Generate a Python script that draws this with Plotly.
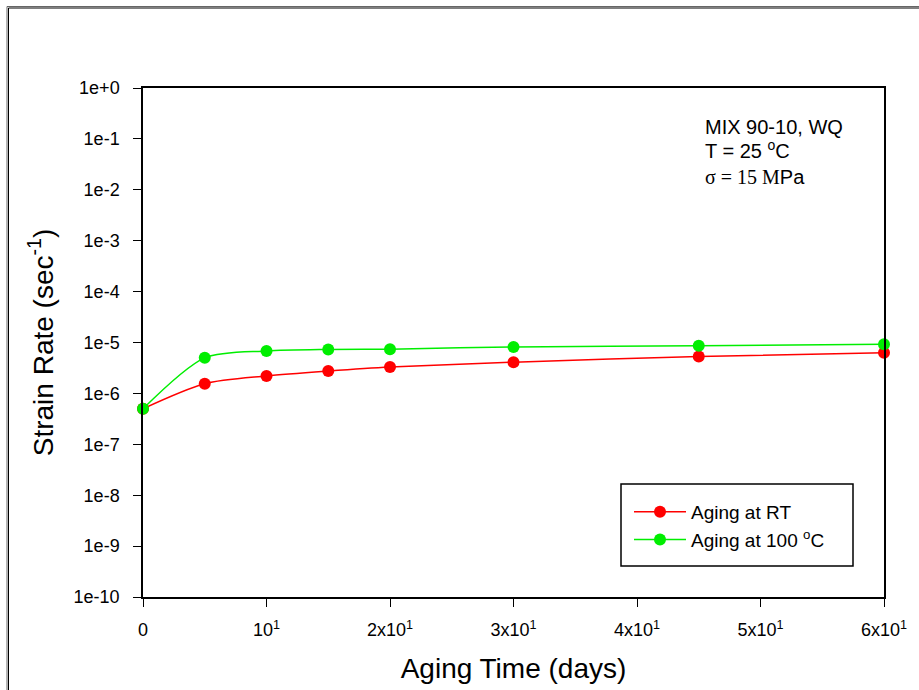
import plotly.graph_objects as go

# Aging time (days) and measured strain rates (1/s)
aging_days = [0, 5, 10, 15, 20, 30, 45, 60]
rate_rt = [5.0e-7, 1.55e-6, 2.2e-6, 2.75e-6, 3.3e-6, 4.1e-6, 5.3e-6, 6.3e-6]
rate_100c = [5.0e-7, 5.0e-6, 6.8e-6, 7.3e-6, 7.4e-6, 8.2e-6, 8.6e-6, 9.2e-6]

x_tick_vals = [0, 10, 20, 30, 40, 50, 60]
x_tick_text = ["0", "10<sup>1</sup>", "2x10<sup>1</sup>", "3x10<sup>1</sup>",
               "4x10<sup>1</sup>", "5x10<sup>1</sup>", "6x10<sup>1</sup>"]
y_tick_vals = [10.0 ** k for k in range(0, -11, -1)]
y_tick_text = ["1e+0"] + [f"1e{k}" for k in range(-1, -11, -1)]

FONT = "Liberation Sans, Arial, sans-serif"

fig = go.Figure()
fig.add_trace(go.Scatter(
    x=aging_days, y=rate_rt, mode="lines+markers", name="Aging at RT",
    line=dict(color="#ff0000", width=1.5, shape="spline", smoothing=0.8),
    marker=dict(color="#ff0000", size=12), cliponaxis=False,
))
fig.add_trace(go.Scatter(
    x=aging_days, y=rate_100c, mode="lines+markers",
    name="Aging at 100 <sup>o</sup>C",
    line=dict(color="#00ee00", width=1.5, shape="spline", smoothing=0.8),
    marker=dict(color="#00ee00", size=12), cliponaxis=False,
))

L, R, T, B = 143, 35, 88, 93
W, H = 919, 690
pw, ph = W - L - R, H - T - B

def px_x(p):
    return (p - L) / pw

def px_y(p):
    return (H - B - p) / ph

fig.update_layout(
    width=W, height=H,
    margin=dict(l=L, r=R, t=T, b=B),
    paper_bgcolor="white", plot_bgcolor="white",
    font=dict(family=FONT, color="black"),
    showlegend=True,
    legend=dict(
        x=px_x(629), y=px_y(493), xanchor="left", yanchor="top",
        borderwidth=0, bgcolor="rgba(0,0,0,0)",
        font=dict(size=19, family=FONT),
        itemwidth=52, tracegroupgap=0,
    ),
    xaxis=dict(
        range=[0, 60], tickvals=x_tick_vals, ticktext=x_tick_text,
        ticks="outside", ticklen=8, tickwidth=1, tickcolor="black",
        ticklabelstandoff=8,
        showline=True, linecolor="black", linewidth=1.5, mirror=True,
        showgrid=False, zeroline=False,
        tickfont=dict(size=18, family=FONT),
        title=dict(text="Aging Time (days)", font=dict(size=28, family=FONT), standoff=19),
    ),
    yaxis=dict(
        type="log", range=[-10, 0], tickvals=y_tick_vals, ticktext=y_tick_text,
        ticks="outside", ticklen=8, tickwidth=1, tickcolor="black",
        ticklabelstandoff=10,
        showline=True, linecolor="black", linewidth=1.5, mirror=True,
        showgrid=False, zeroline=False,
        tickfont=dict(size=18, family=FONT),
        title=dict(text="Strain Rate (sec<sup>-1</sup>)", font=dict(size=28, family=FONT), standoff=12),
    ),
)

# Legend frame
fig.add_shape(
    type="rect", xref="paper", yref="paper", layer="above",
    x0=px_x(621), x1=px_x(853), y0=px_y(566), y1=px_y(484),
    line=dict(color="black", width=1.5), fillcolor="rgba(0,0,0,0)",
)

# Condition notes in the upper right of the plot
notes = [
    ("MIX 90-10, WQ", 127),
    ("T = 25 <sup>o</sup>C", 150),
    ("<span style='font-family:Liberation Serif, Times New Roman, serif'>σ = 15 M</span>Pa", 177),
]
for text, ypx in notes:
    fig.add_annotation(
        xref="paper", yref="paper", x=px_x(703), y=px_y(ypx),
        xanchor="left", yanchor="middle", showarrow=False,
        text=text, font=dict(size=20, family=FONT, color="black"),
    )

# Outer frame around the whole figure
for off, col in [(0, "#666666"), (1.5, "black")]:
    fig.add_shape(
        type="rect", xref="paper", yref="paper", layer="above",
        x0=px_x(7 + off), x1=px_x(940), y0=px_y(710), y1=px_y(6.5 + off),
        line=dict(color=col, width=1), fillcolor="rgba(0,0,0,0)",
    )

fig.write_html("out.html")
